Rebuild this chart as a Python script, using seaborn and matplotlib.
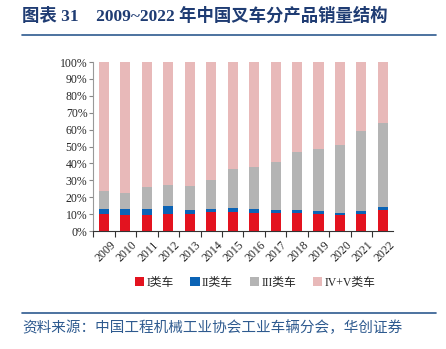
import matplotlib
matplotlib.use("Agg")
import matplotlib.pyplot as plt
import seaborn as sns
import pandas as pd
import numpy as np
from matplotlib.patches import Patch
from matplotlib.lines import Line2D
from matplotlib.ticker import FixedLocator, FuncFormatter

years = ["2009", "2010", "2011", "2012", "2013", "2014", "2015",
         "2016", "2017", "2018", "2019", "2020", "2021", "2022"]
class_i = [10.2, 9.4, 9.4, 9.8, 9.8, 11.4, 11.4, 10.8, 10.6, 10.6, 10.0, 9.4, 10.0, 12.4]
class_ii = [3.1, 3.5, 3.5, 4.9, 2.9, 1.7, 2.3, 2.1, 1.9, 1.8, 1.8, 1.4, 1.6, 1.7]
class_iii = [10.2, 9.3, 13.4, 12.8, 14.2, 17.1, 22.8, 25.1, 28.1, 34.3, 36.8, 39.8, 47.8, 50.0]
class_iv_v = [100 - a - b - c for a, b, c in zip(class_i, class_ii, class_iii)]
series_names = ["I类车", "II类车", "III类车", "IV+V类车"]
colors = ["#E3131F", "#0B63B5", "#B4B4B4", "#E8B9B9"]

sns.set_theme(style="white")
plt.rcParams['font.family'] = ['Liberation Serif', 'Noto Sans CJK SC']

fig = plt.figure(figsize=(4.46, 3.49), dpi=100)
ax = fig.add_axes([93/446, 1-231/349, 300/446, 169/349])

df = pd.DataFrame({"year": years, "i": class_i, "ii": class_ii,
                   "iii": class_iii, "iv": class_iv_v})
cum = df[["i", "ii", "iii", "iv"]].cumsum(axis=1)
for col, c in zip(["iv", "iii", "ii", "i"], colors[::-1]):
    sns.barplot(data=pd.DataFrame({"year": years, "v": cum[col] / 100}),
                x="year", y="v", color=c, width=0.47, ax=ax,
                saturation=1, edgecolor="none", linewidth=0)

ax.set_xlim(-0.51, 13.47)
ax.set_ylim(0, 1)
ax.set_xlabel("")
ax.set_ylabel("")
ax.set_yticks(np.arange(0, 1.01, 0.1))
ax.yaxis.set_major_formatter(FuncFormatter(lambda v, p: f"{int(round(v*100))}%"))
ax.tick_params(axis="y", length=3, width=0.8, color="#888888", labelsize=8.5,
               pad=1, left=True, direction="out")
ax.set_xticks(range(len(years)))
ax.set_xticklabels(years, rotation=45, fontsize=8.5, ha="right", rotation_mode="anchor")
ax.tick_params(axis="x", which="major", length=0, pad=6)
ax.xaxis.set_minor_locator(FixedLocator(np.arange(-0.5, 14, 1.0)))
ax.tick_params(axis="x", which="minor", length=4, width=0.8, color="#333333",
               bottom=True, direction="out")
for lab in ax.get_xticklabels():
    lab.set_transform(lab.get_transform() + matplotlib.transforms.ScaledTranslation(4/72, 0, fig.dpi_scale_trans))
for s in ["top", "right"]:
    ax.spines[s].set_visible(False)
ax.spines["left"].set_color("#999999")
ax.spines["left"].set_linewidth(0.8)
ax.spines["bottom"].set_color("#333333")
ax.spines["bottom"].set_linewidth(0.8)

handles = [Patch(facecolor=c, edgecolor="none") for c in colors]
fig.legend(handles, series_names, loc="center", bbox_to_anchor=(255/446, 1-283/349),
           ncol=4, frameon=False, fontsize=8.5, handlelength=0.8, handleheight=0.8,
           handletextpad=0.2, columnspacing=1.4)

title_color = "#1F3C73"
fig.text(22/446, 1-16/349, "图表 31    2009~2022 年中国叉车分产品销量结构",
         fontsize=12.5, fontweight="bold", color=title_color, va="center", ha="left")
fig.add_artist(Line2D([22/446, 436/446], [1-35/349, 1-35/349], color="#2E5A8F", lw=1.2))
fig.add_artist(Line2D([22/446, 436/446], [1-313/349, 1-313/349], color="#2E5A8F", lw=1.2))
fig.text(22/446, 1-328/349, "资料来源：中国工程机械工业协会工业车辆分会，华创证券",
         fontsize=10.5, style="italic", color="#2E5A8F", va="center", ha="left")

fig.savefig("out.png", dpi=100)
